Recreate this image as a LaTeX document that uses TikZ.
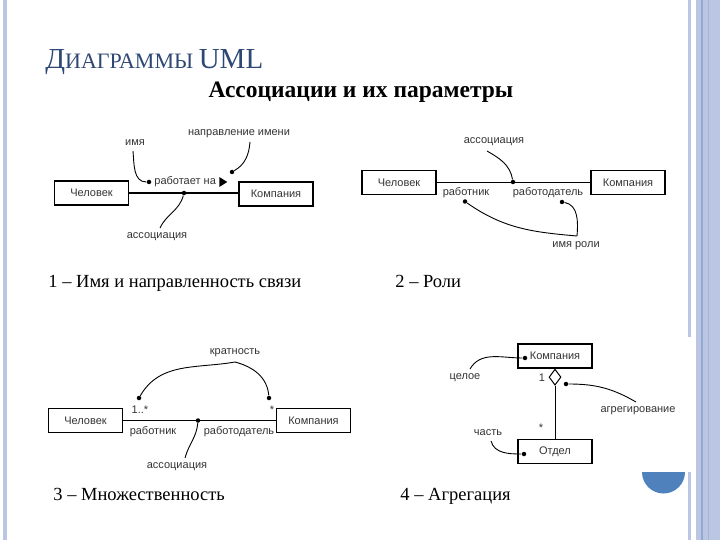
\documentclass[tikz,border=0pt]{standalone}
\usepackage{fontspec}
\setmainfont{Liberation Serif}
\setsansfont{Liberation Sans}
\usetikzlibrary{shapes.geometric}

\definecolor{titleblue}{HTML}{2E4874}
\definecolor{framelight}{HTML}{BAC6E2}
\definecolor{framedark}{HTML}{93A8D3}
\definecolor{discblue}{HTML}{4F81BD}
\definecolor{umltext}{HTML}{333333}

\tikzset{
	cls/.style={draw, line width=1.3pt, minimum width=74pt, minimum height=24pt,
		inner sep=0pt, font=\sffamily\fontsize{11}{13}\selectfont, text=umltext},
	lbl/.style={inner sep=1pt, font=\sffamily\fontsize{11}{13}\selectfont, text=umltext},
	caption/.style={inner sep=0pt, anchor=base west, font=\fontsize{18.5}{20}\selectfont},
	dot/.style={circle, fill, inner sep=0pt, minimum size=4.5pt},
	note/.style={line width=0.9pt},
	assoc/.style={line width=1.3pt}
}

\begin{document}
\begin{tikzpicture}[x=1pt, y=-1pt, line width=0.8pt]
	\useasboundingbox (0,0) rectangle (720,540);

	% Slide frame on both sides.
	\fill[framelight] (3,0) rectangle (7,540);
	\fill[framelight] (688,0) rectangle (691,337);
	\fill[framelight] (688,472) rectangle (691,540);
	\fill[framelight] (696,0) rectangle (720,540);
	\fill[framedark] (700.5,0) rectangle (702.8,540);
	\fill[framedark!60!framelight] (707.5,0) rectangle (709,540);
	\fill[discblue] (642,472) arc[start angle=180, end angle=0, radius=21.5] -- cycle;

	% Headings.
	\node[anchor=base west, inner sep=0pt, text=titleblue] (title) at (45,69)
		{\fontsize{29}{30}\selectfont Д\fontsize{22}{24}\selectfont ИАГРАММЫ \fontsize{29}{30}\selectfont UML};
	\node[anchor=base, inner sep=0pt, font=\bfseries\fontsize{23.5}{25}\selectfont] (subtitle) at (361,98)
		{Ассоциации и их параметры};

	% 1: name and direction of the association.
	\node[cls] (man1) at (91.5,193) {Человек};
	\node[cls] (comp1) at (276,194) {Компания};
	\draw[assoc] (man1.east) -- (comp1.west |- man1.east);
	\coordinate (line1) at (184,193);
	\node[lbl, anchor=west] (works) at (153,182) {работает на};
	\fill (works.east) ++(2,-5) -- ++(8,5) -- ++(-8,5) -- cycle;
	\node[lbl] (name1) at (135,143) {имя};
	\node[lbl] (dirname) at (239,134) {направление имени};
	\node[lbl] (assoc1) at (157,237) {ассоциация};
	\node[dot] (nameDot) at (149,182) {};
	\node[dot] (dirDot) at (232,172) {};
	\node[dot] (lineDot1) at (line1) {};
	\draw[note] (133,151) to[out=-85, in=180] (nameDot);
	\draw[note] (250,142) to[out=-95, in=30] (dirDot);
	\draw[note] (160,228) to[out=65, in=-105] (lineDot1);

	% 2: roles.
	\node[cls] (man2) at (399,182.5) {Человек};
	\node[cls] (comp2) at (628,182.5) {Компания};
	\draw[assoc] (man2) -- (comp2);
	\node[lbl] (assoc2) at (494,142) {ассоциация};
	\node[lbl] (worker2) at (466,193) {работник};
	\node[lbl] (boss2) at (548,193) {работодатель};
	\node[lbl] (rolename) at (576,246) {имя роли};
	\node[dot] (lineDot2) at (513,182) {};
	\node[dot] (workerDot) at (465,201.5) {};
	\node[dot] (bossDot) at (562,202) {};
	\coordinate (roleTip) at (577,236);
	\draw[note] (487,151) to[out=-30, in=100] (lineDot2);
	\draw[note] (workerDot) to[out=-35, in=175] (roleTip);
	\draw[note] (bossDot) to[out=-10, in=85] (roleTip);

	% 3: multiplicity.
	\node[cls] (man3) at (85.5,420.5) {Человек};
	\node[cls] (comp3) at (313.5,420.5) {Компания};
	\draw[assoc] (man3) -- (comp3);
	\node[lbl] (many) at (140,410) {1..*};
	\node[lbl] (star3) at (272,410) {*};
	\node[lbl] (worker3) at (153,432) {работник};
	\node[lbl] (boss3) at (239,432) {работодатель};
	\node[lbl] (mult) at (235,353) {кратность};
	\node[lbl] (assoc3) at (177,467) {ассоциация};
	\node[dot] (lineDot3) at (198,420.5) {};
	\node[dot] (manyDot) at (139,398) {};
	\node[dot] (starDot) at (269,398) {};
	\coordinate (multTip) at (235,362);
	\draw[note] (manyDot) to[out=60, in=190] (multTip);
	\draw[note] (multTip) to[out=-15, in=95] (starDot);
	\draw[note] (185,458) to[out=75, in=-95] (lineDot3);

	% 4: aggregation.
	\node[cls] (comp4) at (555,356) {Компания};
	\node[cls] (dept) at (555,451.5) {Отдел};
	\node[diamond, draw, line width=1pt, fill=white, inner sep=0pt, minimum width=12pt,
		minimum height=16pt, anchor=north] (agg) at (comp4.south) {};
	\draw[line width=1pt] (agg.south) -- (dept.north);
	\node[lbl] (one4) at (542,378) {1};
	\node[lbl] (star4) at (541,428) {*};
	\node[lbl] (whole) at (465,378) {целое};
	\node[lbl] (aggname) at (638,411) {агрегирование};
	\node[lbl] (part) at (488,433) {часть};
	\node[dot] (wholeDot) at (525,358) {};
	\node[dot] (aggDot) at (566,384) {};
	\node[dot] (partDot) at (524,454) {};
	\draw[note] (470,369) to[out=60, in=180] (wholeDot);
	\draw[note] (aggDot) to[out=0, in=150] (636,402);
	\draw[note] (491,441) to[out=-75, in=180] (partDot);

	% Captions.
	\node[caption] (cap1) at (48,287) {1 – Имя и направленность связи};
	\node[caption] (cap2) at (395,287) {2 – Роли};
	\node[caption] (cap3) at (53,500) {3 – Множественность};
	\node[caption] (cap4) at (400,500) {4 – Агрегация};
\end{tikzpicture}
\end{document}
